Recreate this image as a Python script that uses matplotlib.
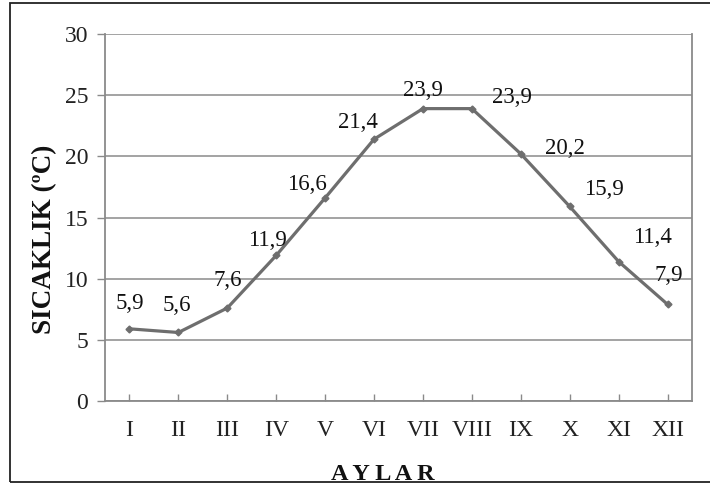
import matplotlib.pyplot as plt
from matplotlib.patches import Rectangle

# monthly mean temperature
months = ['I', 'II', 'III', 'IV', 'V', 'VI', 'VII', 'VIII', 'IX', 'X', 'XI', 'XII']
temps = [5.9, 5.6, 7.6, 11.9, 16.6, 21.4, 23.9, 23.9, 20.2, 15.9, 11.4, 7.9]
yticks = [0, 5, 10, 15, 20, 25, 30]

# label offsets in points (dx, dy) from each marker
label_offsets = [(0, 18), (-1, 19.5), (0, 20), (-6, 11), (-13, 9.5), (-11.5, 12),
                 (0, 13), (29, 8), (32, 4), (24.5, 12), (24.5, 17), (1, 21)]

plt.rcParams['font.family'] = ['Liberation Serif', 'DejaVu Serif']

fig = plt.figure(figsize=(7.1, 4.88), dpi=100)
ax = fig.add_axes([105 / 710, 1 - 401 / 488, (692 - 105) / 710, (401 - 34) / 488])

x = list(range(len(months)))
line_color = '#6e6e6e'
ax.plot(x, temps, color=line_color, lw=2.3, marker='D', markersize=3.5,
        markerfacecolor=line_color, markeredgecolor=line_color, zorder=3)

for xi, t, (dx, dy) in zip(x, temps, label_offsets):
    ax.annotate('{:.1f}'.format(t).replace('.', ','), (xi, t), xytext=(dx, dy),
                textcoords='offset points', ha='center', va='center',
                fontsize=16.5, color='#111111', zorder=4)

ax.set_xlim(-0.5, len(months) - 0.5)
ax.set_ylim(0, 30)
ax.set_yticks(yticks)
ax.set_xticks(x)
ax.set_xticklabels(months)
ax.yaxis.grid(True, color='#8a8a8a', lw=1.1)
ax.set_axisbelow(True)

for side in ['left', 'right', 'bottom']:
    ax.spines[side].set_color('#8a8a8a')
    ax.spines[side].set_linewidth(1.3)
ax.spines['top'].set_visible(False)

ax.tick_params(axis='y', direction='out', length=6, width=1, color='#8a8a8a',
               labelsize=17, pad=6, labelcolor='#222222')
ax.tick_params(axis='x', direction='in', length=5, width=1, color='#8a8a8a',
               labelsize=17, pad=14, labelcolor='#222222')

fig.text(45 / 710, 1 - 239 / 488, 'SICAKLIK (ºC)', rotation=90, ha='center',
         va='center', fontsize=19.5, fontweight='bold', color='#111111')
fig.text(383 / 710, 1 - 474 / 488, 'A Y L A R', ha='center', va='center',
         fontsize=17.5, fontweight='bold', color='#111111')

# outer frame around the whole chart
fig.patches.append(Rectangle((10 / 710, 1 - 482 / 488), 705 / 710, 479 / 488,
                             transform=fig.transFigure, fill=False,
                             edgecolor='#222222', lw=1.3))

fig.savefig('out.png', dpi=100, facecolor='white')
